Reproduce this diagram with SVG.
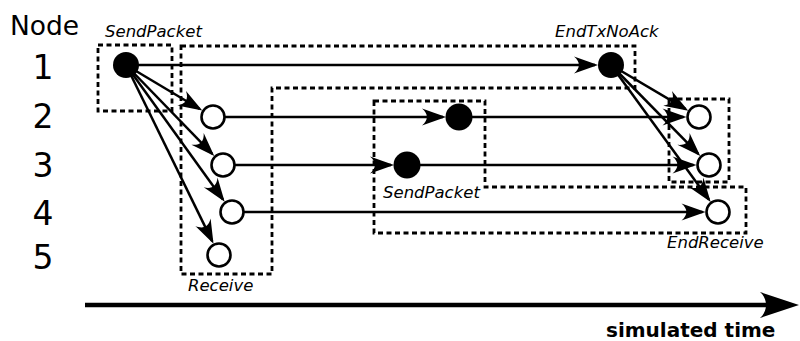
<svg xmlns="http://www.w3.org/2000/svg" width="800" height="341" viewBox="0 0 800 341">
<style>
.grp{fill:none;stroke:#000;stroke-width:2.8;stroke-dasharray:5 3.5}
.c{fill:none;stroke:#000;stroke-width:2.5;marker-end:url(#ah)}
.o{fill:#fff;stroke:#000;stroke-width:2.6}
.f{fill:#000;stroke:none}
.num{font-family:"DejaVu Sans",sans-serif;font-size:33px;text-anchor:middle;fill:#000}
.hd{font-family:"DejaVu Sans",sans-serif;font-size:26.5px;fill:#000}
.lbl{font-family:"DejaVu Sans",sans-serif;font-size:16.5px;font-style:italic;fill:#000}
.tm{font-family:"DejaVu Sans",sans-serif;font-size:20px;font-weight:bold;fill:#000}
</style>
<defs>
<marker id="ah" markerUnits="userSpaceOnUse" viewBox="-24 -10 28 20" refX="0" refY="0" markerWidth="28" markerHeight="20" orient="auto">
<path d="M3,0 L-21,-8.5 C-14.5,-3 -14.5,3 -21,8.5 Z" fill="#000"/>
</marker>
</defs>
<g id="groups">
<rect class="grp" x="98" y="45" width="74" height="66"/>
<polygon class="grp" points="181,46 635,46 635,88 272,88 272,274 181,274"/>
<polygon class="grp" points="374,101 485,101 485,187 746,187 746,233 374,233"/>
<rect class="grp" x="669" y="99" width="60" height="83"/>
</g>
<g id="connectors">
<line class="c" x1="126" y1="65" x2="595" y2="65"/>
<line class="c" x1="126" y1="65" x2="199.7" y2="109.05"/>
<line class="c" x1="126" y1="65" x2="212.2" y2="153.9"/>
<line class="c" x1="126" y1="65" x2="222.9" y2="199.4"/>
<line class="c" x1="126" y1="65" x2="212.2" y2="241.1"/>
<line class="c" x1="213" y1="117" x2="443" y2="117"/>
<line class="c" x1="223" y1="165" x2="391" y2="165"/>
<line class="c" x1="459" y1="117" x2="683.5" y2="117"/>
<line class="c" x1="407" y1="165" x2="693.5" y2="165"/>
<line class="c" x1="232" y1="212" x2="702.5" y2="212"/>
<line class="c" x1="611" y1="65" x2="685.7" y2="109.1"/>
<line class="c" x1="611" y1="65" x2="698.2" y2="153.9"/>
<line class="c" x1="611" y1="65" x2="708.9" y2="199.5"/>
</g>
<g id="n1-send"><circle class="f" cx="126" cy="65" r="13"/></g>
<g id="n2-recv"><circle class="o" cx="213" cy="117" r="11.5"/></g>
<g id="n3-recv"><circle class="o" cx="223" cy="165" r="11.5"/></g>
<g id="n4-recv"><circle class="o" cx="232" cy="212" r="11.5"/></g>
<g id="n5-recv"><circle class="o" cx="219" cy="255" r="11.5"/></g>
<g id="n2-send"><circle class="f" cx="459" cy="117" r="13.5"/></g>
<g id="n3-send"><circle class="f" cx="407" cy="165" r="13.5"/></g>
<g id="n1-endtx"><circle class="f" cx="611" cy="65" r="13"/></g>
<g id="n2-endrx"><circle class="o" cx="699" cy="117" r="11.5"/></g>
<g id="n3-endrx"><circle class="o" cx="709" cy="165" r="11.5"/></g>
<g id="n4-endrx"><circle class="o" cx="718" cy="212" r="11.5"/></g>
<g id="labels">
<text class="hd" x="10" y="35">Node</text>
<text class="num" x="43" y="79">1</text>
<text class="num" x="43" y="128">2</text>
<text class="num" x="43" y="177">3</text>
<text class="num" x="43" y="225">4</text>
<text class="num" x="43" y="269">5</text>
<text class="lbl" x="105" y="37">SendPacket</text>
<text class="lbl" x="555" y="37">EndTxNoAck</text>
<text class="lbl" x="383" y="198">SendPacket</text>
<text class="lbl" x="188" y="291">Receive</text>
<text class="lbl" x="667" y="248">EndReceive</text>
</g>
<g id="timeline">
<line x1="85" y1="305" x2="772" y2="305" stroke="#000" stroke-width="4.5"/>
<path d="M799,305 L760,292 C768,299 768,311 760,318 Z" fill="#000"/>
<text class="tm" x="606" y="337">simulated time</text>
</g>
</svg>
